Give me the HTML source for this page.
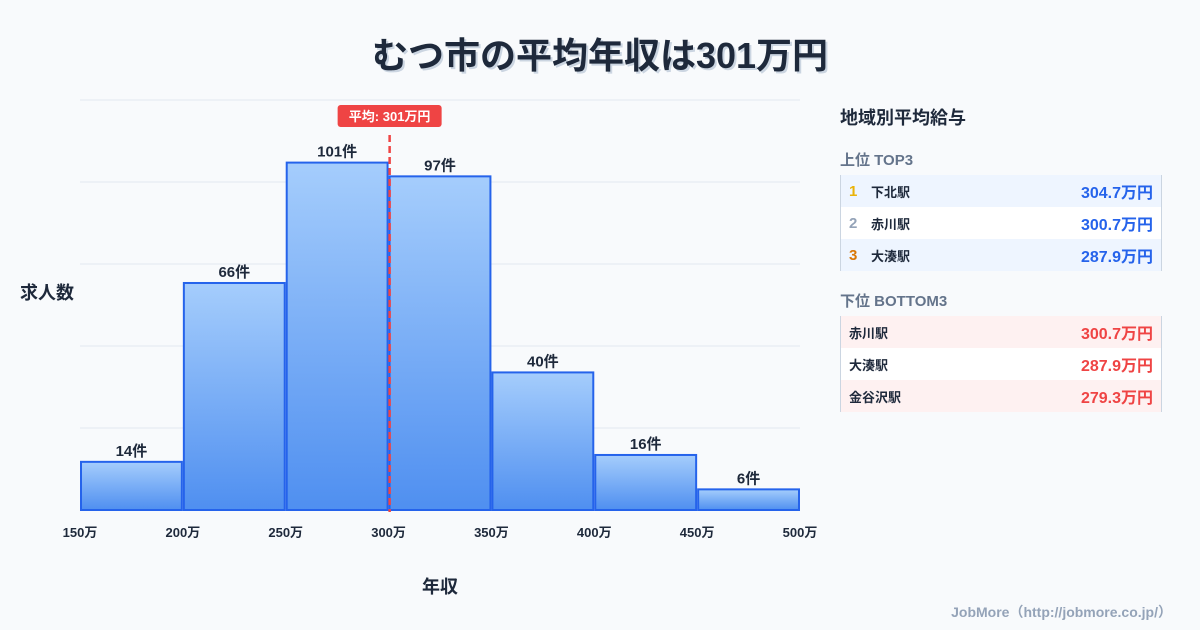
<!DOCTYPE html>
<html><head><meta charset="utf-8">
<style>
body{margin:0;width:1200px;height:630px;background:#f8fafc;font-family:"Liberation Sans","Noto Sans CJK JP",sans-serif;overflow:hidden;position:relative;color:#1e293b}
.t{position:absolute;left:0;width:1200px;top:27px;text-align:center;font-size:36px;font-weight:bold;color:#1e293b;text-shadow:2px 2px 0 #cbd5e1}
.p{position:absolute;left:840px;width:320px}
.row{height:32px;display:flex;align-items:center;font-size:13px;font-weight:bold;padding:0 8px;box-sizing:border-box;width:320px}
.row .v{margin-left:auto;font-size:16px}
</style></head><body>
<div class="t">むつ市の平均年収は301万円</div>
<svg id="c" width="1200" height="630" style="position:absolute;left:0;top:0">
<defs><linearGradient id="g" x1="0" y1="0" x2="0" y2="1"><stop offset="0" stop-color="#a5cdfc"/><stop offset="1" stop-color="#4f8ff0"/></linearGradient></defs>
</svg>
<div class="p" style="top:104px;font-size:18px;font-weight:bold">地域別平均給与</div>
<div class="p" style="top:149px;font-size:15px;font-weight:bold;color:#64748b">上位 TOP3</div>
<div class="p" style="top:175px;border-left:1px solid #cbd5e1;border-right:1px solid #cbd5e1">
<div class="row" style="background:#eef5ff"><span style="color:#eab308;width:22px;font-size:15px">1</span>下北駅<span class="v" style="color:#2563eb">304.7万円</span></div>
<div class="row" style="background:#fff"><span style="color:#94a3b8;width:22px;font-size:15px">2</span>赤川駅<span class="v" style="color:#2563eb">300.7万円</span></div>
<div class="row" style="background:#eef5ff"><span style="color:#d97706;width:22px;font-size:15px">3</span>大湊駅<span class="v" style="color:#2563eb">287.9万円</span></div>
</div>
<div class="p" style="top:290px;font-size:15px;font-weight:bold;color:#64748b">下位 BOTTOM3</div>
<div class="p" style="top:316px;border-left:1px solid #cbd5e1;border-right:1px solid #cbd5e1">
<div class="row" style="background:#fef1f1">赤川駅<span class="v" style="color:#ef4444">300.7万円</span></div>
<div class="row" style="background:#fff">大湊駅<span class="v" style="color:#ef4444">287.9万円</span></div>
<div class="row" style="background:#fef1f1">金谷沢駅<span class="v" style="color:#ef4444">279.3万円</span></div>
</div>
<div style="position:absolute;right:28px;top:602px;font-size:14px;font-weight:bold;color:#94a3b8">JobMore（http://jobmore.co.jp/）</div>
<script>
const binStarts=[150,200,250,300,350,400,450];
const counts=[14,66,101,97,40,16,6];
const xTicks=[150,200,250,300,350,400,450,500];
const avgValue=301;
const svg=document.getElementById('c');const NS='http://www.w3.org/2000/svg';
const X=v=>80+(v-150)*720/350, Y=v=>510-v*410/119.2;
function mk(t,a,txt){const e=document.createElementNS(NS,t);for(const k in a)e.setAttribute(k,a[k]);if(txt!=null)e.textContent=txt;svg.appendChild(e);return e;}
for(let i=0;i<6;i++){const e=mk('line',{x1:80,x2:800,y1:100+i*82,y2:100+i*82,stroke:'#e2e8f0'});

}
counts.forEach((c,i)=>{const x0=X(binStarts[i]),x1=X(binStarts[i]+50);
const r=mk('rect',{x:x0+1,y:Y(c),width:x1-x0-2,height:510-Y(c),fill:'url(#g)',stroke:'#2563eb','stroke-width':2});


const l=mk('text',{x:(x0+x1)/2,y:Y(c)-6,'text-anchor':'middle','font-size':15,'font-weight':'bold',fill:'#1e293b'},c+'件');

});
xTicks.forEach(v=>{const t=mk('text',{x:X(v),y:537,'text-anchor':'middle','font-size':13,'font-weight':'bold',fill:'#1e293b'},v+'万');

});
const ax=X(avgValue)-1;
const al=mk('line',{x1:ax,x2:ax,y1:135,y2:512,stroke:'#ef4444','stroke-width':2.5,'stroke-dasharray':'7,4'});


const ab=mk('rect',{x:ax-52,y:105,width:104,height:22,rx:3,fill:'#ef4444'});


const at=mk('text',{x:ax,y:121,'text-anchor':'middle','font-size':13,'font-weight':'bold',fill:'#fff'},'平均: '+avgValue+'万円');


const yt=mk('text',{x:20,y:299,'font-size':18,'font-weight':'bold',fill:'#1e293b'},'求人数');


const xt=mk('text',{x:440,y:593,'text-anchor':'middle','font-size':18,'font-weight':'bold',fill:'#1e293b'},'年収');


</script>
</body></html>
